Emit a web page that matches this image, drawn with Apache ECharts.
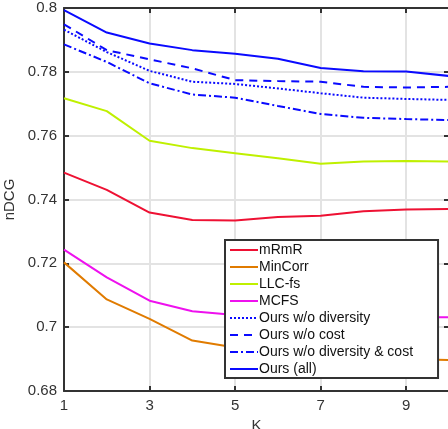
<!DOCTYPE html>
<html>
<head>
<meta charset="utf-8">
<script src="https://cdn.jsdelivr.net/npm/echarts@6/dist/echarts.min.js"></script>
<style>
  html, body { margin: 0; padding: 0; background: #fff; }
  #chart { width: 448px; height: 429px; }
</style>
</head>
<body>
<div id="chart"></div>
<script>
// K values on the x axis
const kValues = ['1', '2', '3', '4', '5', '6', '7', '8', '9', '10'];

// nDCG per method
const mRmR = [0.7484, 0.7430, 0.7359, 0.7336, 0.7334, 0.7345, 0.7349, 0.7363, 0.7369, 0.7370];
const minCorr = [0.7203, 0.7087, 0.7026, 0.6958, 0.6936, 0.6922, 0.6912, 0.6905, 0.6900, 0.6897];
const llcFs = [0.7717, 0.7677, 0.7584, 0.7561, 0.7545, 0.7529, 0.7512, 0.7519, 0.7521, 0.7519];
const mcfs = [0.7243, 0.7156, 0.7083, 0.7050, 0.7038, 0.7035, 0.7033, 0.7032, 0.7031, 0.7031];
const oursNoDiv = [0.7932, 0.7862, 0.7803, 0.7769, 0.7762, 0.7748, 0.7733, 0.7719, 0.7715, 0.7712];
const oursNoCost = [0.7949, 0.7868, 0.7839, 0.7811, 0.7774, 0.7771, 0.7769, 0.7753, 0.7751, 0.7753];
const oursNoDivCost = [0.7886, 0.7831, 0.7764, 0.7729, 0.7719, 0.7693, 0.7668, 0.7656, 0.7652, 0.7649];
const oursAll = [0.7993, 0.7923, 0.7889, 0.7868, 0.7857, 0.7841, 0.7812, 0.7802, 0.7801, 0.7787];

const yTicks = [0.68, 0.70, 0.72, 0.74, 0.76, 0.78, 0.80];

const chart = echarts.init(document.getElementById('chart'));

const font = 'Liberation Sans, Arial, sans-serif';
const oddOnly = (i) => i % 2 === 0;

function line(name, data, color, type) {
  return {
    name: name,
    type: 'line',
    data: data,
    symbol: 'none',
    smooth: false,
    lineStyle: { color: color, width: 2, type: type || 'solid' },
    itemStyle: { color: color },
    z: 3
  };
}

const options = {
  animation: false,
  backgroundColor: '#fff',
  grid: { left: 64, top: 8, width: 385, bottom: 38, containLabel: false, outerBoundsMode: 'none' },
  legend: {
    orient: 'vertical',
    left: 225,
    top: 240,
    padding: [3, 25, 2, 4],
    itemGap: 3,
    itemWidth: 28,
    itemHeight: 14,
    backgroundColor: '#fff',
    borderColor: '#333',
    borderWidth: 2,
    borderRadius: 0,
    itemStyle: { opacity: 0 },
    textStyle: { fontFamily: font, fontSize: 14, color: '#111', padding: [0, 0, 0, -4] },
    z: 10
  },
  xAxis: [
    {
      type: 'category',
      data: kValues,
      boundaryGap: false,
      name: 'K',
      nameLocation: 'middle',
      nameGap: 25,
      nameTextStyle: { fontFamily: font, fontSize: 15, color: '#333' },
      axisLine: { lineStyle: { color: '#333', width: 2 } },
      axisTick: { inside: true, length: 5, interval: oddOnly, lineStyle: { color: '#333', width: 2 } },
      axisLabel: { interval: oddOnly, fontFamily: font, fontSize: 15, color: '#333', margin: 7 },
      splitLine: { show: true, interval: oddOnly, lineStyle: { color: '#e3e3e3', width: 2 } }
    },
    {
      type: 'category',
      data: kValues,
      boundaryGap: false,
      position: 'top',
      axisLine: { lineStyle: { color: '#333', width: 2 } },
      axisTick: { inside: true, length: 5, interval: oddOnly, lineStyle: { color: '#333', width: 2 } },
      axisLabel: { show: false },
      splitLine: { show: false }
    }
  ],
  yAxis: [
    {
      type: 'value',
      min: yTicks[0],
      max: yTicks[yTicks.length - 1],
      interval: 0.02,
      name: 'nDCG',
      nameLocation: 'middle',
      nameGap: 37,
      nameTextStyle: { fontFamily: font, fontSize: 15, color: '#333' },
      axisLine: { show: true, lineStyle: { color: '#333', width: 2 } },
      axisTick: { show: true, inside: true, length: 5, lineStyle: { color: '#333', width: 2 } },
      axisLabel: {
        fontFamily: font, fontSize: 15, color: '#333', margin: 7,
        formatter: (v) => String(parseFloat(v.toFixed(2)))
      },
      splitLine: { show: true, lineStyle: { color: '#e3e3e3', width: 2 } }
    },
    {
      type: 'value',
      min: yTicks[0],
      max: yTicks[yTicks.length - 1],
      interval: 0.02,
      position: 'right',
      axisLine: { show: true, lineStyle: { color: '#333', width: 2 } },
      axisTick: { show: true, inside: true, length: 5, lineStyle: { color: '#333', width: 2 } },
      axisLabel: { show: false },
      splitLine: { show: false }
    }
  ],
  series: [
    line('mRmR', mRmR, '#ee1133'),
    line('MinCorr', minCorr, '#e07b00'),
    line('LLC-fs', llcFs, '#bff000'),
    line('MCFS', mcfs, '#ee11ee'),
    line('Ours w/o diversity', oursNoDiv, '#0a0aff', [2, 2]),
    line('Ours w/o cost', oursNoCost, '#0a0aff', [8, 6]),
    line('Ours w/o diversity & cost', oursNoDivCost, '#0a0aff', [8, 3, 2, 3]),
    line('Ours (all)', oursAll, '#0a0aff')
  ]
};

chart.setOption(options);
</script>
</body>
</html>
